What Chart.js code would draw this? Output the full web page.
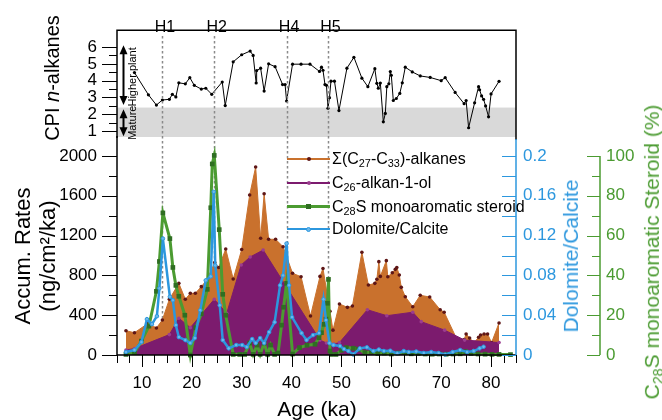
<!DOCTYPE html>
<html>
<head>
<meta charset="utf-8">
<script src="https://cdn.jsdelivr.net/npm/chart.js@4.4.1/dist/chart.umd.min.js"></script>
<style>
  html, body { margin: 0; padding: 0; background: #fff; }
  #wrap { position: relative; width: 662px; height: 420px; overflow: hidden;
          font-family: 'Liberation Sans', Arial, sans-serif; color: #000; }
  canvas { position: absolute; left: 0; top: 0; }
  .vt { position: absolute; white-space: nowrap; font-size: 21px; line-height: 1.15;
        transform: translate(-50%, -50%) rotate(-90deg); text-align: center; }
  .ht { position: absolute; white-space: nowrap; font-size: 21px; line-height: 1.15;
        transform: translate(-50%, -50%); }
  sub { font-size: 0.68em; vertical-align: -0.3em; line-height: 0; }
  .lg { position: absolute; left: 287px; height: 0; width: 200px; }
  .lg .ln { position: absolute; left: 0; width: 43px; }
  .lg .mk { position: absolute; }
  .lg .tx { position: absolute; left: 45px; top: -10px; line-height: 20px; font-size: 16px; white-space: nowrap; }
</style>
</head>
<body>
<div id="wrap">
  <canvas id="cpi" width="662" height="420"></canvas>
  <canvas id="rates" width="662" height="420"></canvas>

  <div class="vt" style="left:52px; top:78px; font-size:20px;">CPI <i>n</i>-alkanes</div>
  <div class="vt" style="left:35px; top:256px; line-height:25px; font-size:22px;">Accum. Rates<br>(ng/cm²/ka)</div>
  <div class="vt" style="left:571px; top:256px; color:#2c97de;">Dolomite/Calcite</div>
  <div class="vt" style="left:652px; top:252px; color:#4b9b31;">C<sub>28</sub>S monoaromatic Steroid (%)</div>
  <div class="ht" style="left:317px; top:409px;">Age (ka)</div>

  <div class="lg" style="top:159px">
    <span class="ln" style="top:-0.75px; height:1.5px; background:#c9712d"></span>
    <span class="mk" style="left:19.5px; top:-2px; width:4px; height:4px; border-radius:50%; background:#5e1616"></span>
    <span class="tx">Σ(C<sub>27</sub>-C<sub>33</sub>)-alkanes</span>
  </div>
  <div class="lg" style="top:183px">
    <span class="ln" style="top:-0.75px; height:1.5px; background:#7c1b6e"></span>
    <span class="mk" style="left:19.5px; top:-2px; width:4px; height:4px; border-radius:50%; background:#9b3d8f"></span>
    <span class="tx">C<sub>26</sub>-alkan-1-ol</span>
  </div>
  <div class="lg" style="top:206.5px">
    <span class="ln" style="top:-1.5px; height:3px; background:#4b9b31"></span>
    <span class="mk" style="left:19px; top:-2.5px; width:5px; height:5px; background:#2f6e22"></span>
    <span class="tx">C<sub>28</sub>S monoaromatic steroid</span>
  </div>
  <div class="lg" style="top:229px">
    <span class="ln" style="top:-1.25px; height:2.5px; background:#2c97de"></span>
    <span class="mk" style="left:19px; top:-2.5px; width:3px; height:3px; border-radius:50%; border:1px solid #2c97de; background:#6cb8ea"></span>
    <span class="tx">Dolomite/Calcite</span>
  </div>
</div>

<script>
// ── Data ────────────────────────────────────────────
const ageMin = 5, ageMax = 85;
const ageTicks = [10, 20, 30, 40, 50, 60, 70, 80];

const eventNames = ['H1', 'H2', 'H4', 'H5'];
const eventAges  = [14.1, 24.5, 39.0, 47.3];

// CPI n-alkanes (top panel)
const cpiTicks = [1, 2, 3, 4, 5, 6];
const matureBand  = [0.65, 2.4];
const higherPlant = [6.1, 2.55];
const matureArrow = [2.3, 0.7];
const cpiAge = [
  8.5, 11.3, 12.9, 14.1, 15.5, 16.1, 16.8, 17.4, 18.7, 19.6,
  20.5, 21.9, 22.8, 24.0, 26.1, 26.7, 28.3, 30.0, 31.7, 32.3,
  32.9, 33.0, 33.8, 34.5, 35.4, 36.7, 38.2, 38.7, 39.0, 40.2,
  41.9, 43.7, 45.6, 46.0, 46.3, 46.7, 47.0, 47.3, 47.6, 47.9,
  48.6, 49.5, 51.1, 52.5, 54.1, 55.3, 56.7, 57.1, 57.4, 57.8,
  58.4, 58.8, 59.1, 59.5, 59.8, 60.0, 60.4, 61.0, 61.7, 62.2,
  62.8, 64.2, 65.8, 67.8, 70.0, 70.8, 72.8, 74.6, 75.0, 75.5,
  76.7, 77.5, 77.7, 78.1, 78.5, 78.9, 79.5, 80.0, 81.6
];
const cpiVal = [
  4.48, 3.16, 2.55, 2.85, 2.89, 3.19, 3.03, 3.87, 3.81, 4.18,
  3.72, 3.50, 3.55, 3.19, 3.92, 2.52, 5.12, 5.54, 5.76, 5.50,
  3.86, 4.60, 4.74, 3.38, 5.00, 4.83, 3.77, 3.77, 2.79, 4.98,
  4.98, 4.98, 4.55, 4.80, 4.62, 3.77, 3.72, 2.36, 2.99, 3.97,
  3.97, 2.22, 4.74, 5.39, 4.15, 3.64, 4.71, 3.84, 3.55, 3.86,
  1.55, 2.05, 3.64, 3.81, 4.54, 4.32, 2.82, 2.94, 3.24, 3.87,
  4.80, 4.52, 4.28, 4.19, 4.00, 4.18, 3.30, 2.63, 2.82, 1.20,
  2.68, 3.64, 3.46, 3.09, 2.89, 2.50, 1.85, 3.21, 3.96
];

// Accumulation rates (bottom panel, left axis)
const rateTicks = [0, 400, 800, 1200, 1600, 2000];
const alkAge = [
  6.8, 8.5, 11.3, 12.9, 14.1, 15.5, 17.4, 18.7, 19.7, 20.7,
  21.9, 23.0, 24.6, 25.4, 26.8, 28.3, 30.0, 31.6, 32.8, 33.8,
  34.5, 35.4, 36.8, 38.3, 40.2, 41.9, 43.8, 45.7, 46.3, 47.7,
  48.3, 49.6, 51.2, 52.2, 54.1, 55.4, 56.7, 57.1, 57.5, 57.8,
  59.0, 59.3, 60.2, 60.8, 61.1, 61.6, 62.0, 62.8, 64.3, 65.8,
  67.7, 69.8, 70.6, 73.1, 74.6, 75.0, 75.7, 76.6, 77.5, 77.9,
  78.6, 79.3, 80.1, 81.6
];
const alkRate = [
  244, 224, 320, 271, 352, 560, 720, 560, 620, 620,
  687, 754, 930, 880, 1065, 764, 1060, 1608, 1890, 1173,
  1620, 1163, 1163, 1088, 821, 787, 392, 790, 870, 440,
  250, 513, 479, 492, 1032, 703, 720, 761, 938, 790,
  948, 787, 827, 861, 880, 804, 680, 586, 485, 600,
  583, 455, 430, 163, 155, 211, 170, 124, 178, 201,
  211, 211, 124, 322
];
const olAge  = [6.8, 8.5, 15.5, 17.4, 19.7, 24.5, 27.0, 29.9, 31.7, 34.3, 45.7, 47.0, 48.5, 49.6, 55.2, 59.1, 64.3, 66.0, 70.7, 74.7, 81.6];
const olRate = [50, 65, 205, 370, 275, 560, 420, 905, 985, 1055, 150, 120, 110, 125, 455, 395, 430, 335, 250, 150, 125];

// C28S monoaromatic steroid (%)
const steroidTicks = [0, 20, 40, 60, 80, 100];
const steAge = [
  6.8, 8.5, 9.9, 11.4, 12.9, 13.5, 14.2, 15.6, 16.2, 16.8,
  17.4, 18.6, 19.7, 20.8, 21.9, 23.1, 23.8, 24.1, 24.5, 25.5,
  26.2, 26.8, 28.3, 29.6, 30.6, 31.6, 32.3, 33.1, 33.7, 34.5,
  35.2, 35.8, 36.6, 37.3, 38.0, 38.4, 39.0, 40.2, 41.6, 43.1,
  44.7, 45.5, 46.0, 46.5, 46.9, 47.2, 47.4, 47.7, 48.0, 48.9,
  50.0, 51.0, 52.4, 53.4, 54.7, 56.0, 57.3, 58.6, 60.0, 61.3,
  62.7, 64.0, 65.4, 66.8, 68.2, 69.6, 71.0, 72.4, 73.8, 74.9,
  76.0, 77.4, 78.8, 80.2, 81.6, 83.9
];
const steVal = [
  0.3, 1.2, 7, 14.5, 32, 47, 71.4, 58.5, 44, 35,
  29.5, 20, 0, 13.7, 20.7, 33, 74, 96, 100.3, 63,
  30.5, 20, 0.3, 0.3, 0.3, 6, 0.3, 5, 0.3, 6,
  0.3, 5, 0.3, 1, 15, 24, 36, 0.5, 3.7, 4.9,
  5.4, 8.7, 11.2, 15.4, 18, 26, 38, 2, 0.3, 0.3,
  2.4, 3.7, 3.4, 2.9, 1.2, 1.5, 0.8, 1.0, 0.5, 1.0,
  1.2, 0.6, 0.8, 0.5, 0.4, 0.5, 0.4, 0.5, 0.6, 1.7,
  0.8, 0.5, 0.4, 0.3, 0.3, 0.2
];

// Dolomite/Calcite ratio
const ratioTicks = [0, 0.04, 0.08, 0.12, 0.16, 0.2];
const dolAge = [
  6.8, 8.5, 9.9, 11.0, 12.0, 13.0, 13.5, 14.2, 15.6, 16.2,
  16.8, 17.4, 18.7, 19.7, 20.6, 21.7, 22.8, 23.8, 24.4, 24.7,
  25.6, 26.2, 27.4, 28.9, 30.1, 31.0, 32.1, 32.8, 33.7, 34.5,
  35.5, 36.6, 37.7, 38.3, 39.0, 39.5, 40.1, 42.0, 43.0, 44.3,
  45.5, 46.4, 46.9, 47.6, 48.4, 49.7, 50.5, 51.4, 52.4, 53.7,
  55.1, 56.4, 57.5, 58.5, 59.8, 61.2, 62.5, 63.5, 65.0, 66.5,
  68.0, 69.5, 70.8, 72.3, 73.8, 75.2, 76.5, 77.7, 78.5
];
const dolVal = [
  0.003, 0.005, 0.013, 0.036, 0.031, 0.039, 0.067, 0.117, 0.0586, 0.055,
  0.030, 0.018, 0.015, 0.012, 0.017, 0.045, 0.075, 0.079, 0.164, 0.090,
  0.050, 0.015, 0.0067, 0.010, 0.010, 0.008, 0.016, 0.012, 0.017, 0.012,
  0.023, 0.033, 0.070, 0.080, 0.112, 0.070, 0.038, 0.022, 0.015, 0.020,
  0.022, 0.056, 0.035, 0.012, 0.010, 0.009, 0.006, 0.004, 0.0005, 0.0067,
  0.0077, 0.004, 0.0055, 0.004, 0.0043, 0.0017, 0.004, 0.003, 0.0035, 0.002,
  0.003, 0.002, 0.0005, 0.003, 0.005, 0.003, 0.004, 0.0067, 0.0083
];

// ── Colours ─────────────────────────────────────────
const C_ORANGE = '#c9712d', C_PURPLE = '#7c1b6e', C_GREEN = '#4b9b31', C_BLUE = '#2c97de';
const FONT = "'Liberation Sans', Arial, sans-serif";
Chart.defaults.font.family = FONT;
Chart.defaults.color = '#000';

const pts = (xs, ys) => xs.map((x, i) => ({ x, y: ys[i] }));
const fixTicks = arr => scale => { scale.ticks = arr.map(v => ({ value: v })); };

function tick(ctx, x1, y1, x2, y2) {
  ctx.beginPath(); ctx.moveTo(x1, y1); ctx.lineTo(x2, y2); ctx.stroke();
}

function arrow(ctx, x, yA, yB) {
  ctx.beginPath(); ctx.moveTo(x, yA + 6); ctx.lineTo(x, yB - 6); ctx.stroke();
  [[yA, 1], [yB, -1]].forEach(([y, d]) => {
    ctx.beginPath();
    ctx.moveTo(x, y); ctx.lineTo(x - 4, y + 9 * d); ctx.lineTo(x + 4, y + 9 * d);
    ctx.closePath(); ctx.fill();
  });
}

// ── Top panel: CPI ─────────────────────────────────
const topDeco = {
  id: 'topDeco',
  beforeDatasetsDraw(chart) {
    const { ctx, chartArea: a, scales: { y } } = chart;
    const yt = y.getPixelForValue(matureBand[1]);
    ctx.save();
    ctx.fillStyle = '#d9d9d9';
    ctx.fillRect(a.left, yt, a.right - a.left, a.bottom - yt);
    ctx.restore();
  },
  afterDraw(chart) {
    const { ctx, chartArea: a, scales: { y } } = chart;
    ctx.save();
    ctx.strokeStyle = '#000';
    ctx.lineWidth = 1.5;
    ctx.beginPath();
    ctx.moveTo(a.left, a.bottom + 1);
    ctx.lineTo(a.left, a.top);
    ctx.lineTo(a.right, a.top);
    ctx.lineTo(a.right, a.bottom + 3);
    ctx.stroke();

    ctx.lineWidth = 1;
    for (let v = 1; v <= 6; v += 0.5) {
      const py = Math.round(y.getPixelForValue(v)) + 0.5;
      tick(ctx, a.left - (v % 1 === 0 ? 15 : 8), py, a.left, py);
    }

    // interpretation arrows
    ctx.fillStyle = '#000';
    ctx.lineWidth = 2;
    arrow(ctx, a.left + 6.5, y.getPixelForValue(higherPlant[0]), y.getPixelForValue(higherPlant[1]));
    arrow(ctx, a.left + 6.5, y.getPixelForValue(matureArrow[0]), y.getPixelForValue(matureArrow[1]));

    ctx.font = '11px ' + FONT;
    ctx.textAlign = 'center';
    ctx.textBaseline = 'middle';
    [['Higher plant', (higherPlant[0] + higherPlant[1]) / 2 - 0.1],
     ['Mature', (matureArrow[0] + matureArrow[1]) / 2]].forEach(([t, v]) => {
      ctx.save();
      ctx.translate(a.left + 16, y.getPixelForValue(v));
      ctx.rotate(-Math.PI / 2);
      ctx.fillText(t, 0, 0);
      ctx.restore();
    });
    ctx.restore();
  }
};

new Chart(document.getElementById('cpi'), {
  type: 'line',
  data: {
    datasets: [{
      data: pts(cpiAge, cpiVal),
      borderColor: '#000', borderWidth: 1,
      pointRadius: 1.6, pointBackgroundColor: '#000', pointBorderWidth: 0,
      tension: 0, clip: false
    }]
  },
  options: {
    responsive: false, animation: false,
    layout: { padding: { top: 12, right: 146, bottom: 283, left: 0 } },
    plugins: { legend: { display: false }, tooltip: { enabled: false } },
    scales: {
      x: { type: 'linear', min: ageMin, max: ageMax, display: false },
      y: {
        min: matureBand[0], max: 7.0,
        grid: { display: false, drawTicks: false }, border: { display: false },
        afterBuildTicks: fixTicks(cpiTicks),
        afterFit: s => { s.width = 117; },
        ticks: { padding: 20, font: { size: 17 }, color: '#000', callback: v => String(v) }
      }
    }
  },
  plugins: [topDeco]
});

// ── Bottom panel: accumulation rates ───────────────
const botDeco = {
  id: 'botDeco',
  beforeDatasetsDraw(chart) {
    const { ctx, chartArea: a, scales: { x } } = chart;
    ctx.save();
    ctx.strokeStyle = '#8a8a8a';
    ctx.lineWidth = 1.5;
    ctx.setLineDash([2.5, 2.5]);
    eventAges.forEach(age => {
      const px = Math.round(x.getPixelForValue(age)) + 0.5;
      tick(ctx, px, 36, px, a.bottom);
    });
    ctx.setLineDash([]);
    ctx.fillStyle = '#000';
    ctx.font = '16px ' + FONT;
    ctx.textAlign = 'center';
    ctx.textBaseline = 'middle';
    eventNames.forEach((n, i) => ctx.fillText(n, x.getPixelForValue(eventAges[i]) + 2.5, 28));
    ctx.restore();
  },
  afterDraw(chart) {
    const { ctx, chartArea: a, scales: { x, y, yBlue, yGreen } } = chart;
    ctx.save();
    ctx.lineWidth = 1.5;
    ctx.strokeStyle = '#000';
    tick(ctx, a.left, 136, a.left, a.bottom);
    tick(ctx, a.left, a.bottom, a.right, a.bottom);

    ctx.lineWidth = 1;
    for (let v = 0; v <= 2000; v += 200) {
      const py = Math.round(y.getPixelForValue(v)) + 0.5;
      tick(ctx, a.left - (v % 400 === 0 ? 15 : 8), py, a.left, py);
    }
    for (let v = ageMin; v <= ageMax; v += 2.5) {
      const px = Math.round(x.getPixelForValue(v)) + 0.5;
      tick(ctx, px, a.bottom, px, a.bottom + (v % 10 === 0 ? 12 : 8));
    }

    ctx.strokeStyle = C_BLUE;
    ctx.lineWidth = 1.5;
    tick(ctx, a.right, 139, a.right, a.bottom);
    ctx.lineWidth = 1;
    for (let v = 0; v <= 0.2001; v += 0.02) {
      const py = Math.round(yBlue.getPixelForValue(v)) + 0.5;
      tick(ctx, a.right - 14, py, a.right, py);
    }

    ctx.strokeStyle = C_GREEN;
    ctx.lineWidth = 1.5;
    const gx = yGreen.left;
    tick(ctx, gx, yGreen.getPixelForValue(100), gx, yGreen.getPixelForValue(0));
    ctx.lineWidth = 1;
    for (let v = 0; v <= 100; v += 10) {
      const py = Math.round(yGreen.getPixelForValue(v)) + 0.5;
      tick(ctx, gx - (v % 20 === 0 ? 13 : 8), py, gx, py);
    }
    ctx.restore();
  }
};

new Chart(document.getElementById('rates'), {
  type: 'line',
  data: {
    datasets: [
      {
        label: 'Σ(C27-C33)-alkanes', data: pts(alkAge, alkRate), yAxisID: 'y',
        fill: 'origin', backgroundColor: C_ORANGE, borderColor: C_ORANGE, borderWidth: 1,
        pointRadius: 1.8, pointBackgroundColor: '#5e1616', pointBorderWidth: 0, order: 4
      },
      {
        label: 'C26-alkan-1-ol', data: pts(olAge, olRate), yAxisID: 'y',
        fill: 'origin', backgroundColor: C_PURPLE, borderColor: C_PURPLE, borderWidth: 1,
        pointRadius: 1.8, pointBackgroundColor: '#9b3d8f', pointBorderWidth: 0, order: 3
      },
      {
        label: 'C28S monoaromatic steroid', data: pts(steAge, steVal), yAxisID: 'yGreen',
        borderColor: C_GREEN, borderWidth: 3, pointStyle: 'rect', pointRadius: 3.3,
        pointBackgroundColor: '#2f6e22', pointBorderWidth: 0, order: 2, clip: false
      },
      {
        label: 'Dolomite/Calcite', data: pts(dolAge, dolVal), yAxisID: 'yBlue',
        borderColor: C_BLUE, borderWidth: 2.5, pointRadius: 1.8,
        pointBackgroundColor: '#6cb8ea', pointBorderColor: C_BLUE, pointBorderWidth: 1, order: 1, clip: false
      }
    ]
  },
  options: {
    responsive: false, animation: false,
    layout: { padding: { top: 156, right: 0, bottom: 0, left: 0 } },
    elements: { line: { tension: 0 } },
    plugins: { legend: { display: false }, tooltip: { enabled: false } },
    scales: {
      x: {
        type: 'linear', position: 'bottom', min: ageMin, max: ageMax,
        grid: { display: false, drawTicks: false }, border: { display: false },
        afterBuildTicks: fixTicks(ageTicks),
        afterFit: s => { s.height = 65; },
        ticks: { padding: 18, font: { size: 17 }, color: '#000', maxRotation: 0, callback: v => String(v) }
      },
      y: {
        position: 'left', min: 0, max: 2000,
        grid: { display: false, drawTicks: false }, border: { display: false },
        afterBuildTicks: fixTicks(rateTicks),
        afterFit: s => { s.width = 117; },
        ticks: { padding: 20, font: { size: 17 }, color: '#000', callback: v => String(v) }
      },
      yBlue: {
        position: 'right', weight: 0, min: 0, max: 0.2,
        grid: { display: false, drawTicks: false }, border: { display: false },
        afterBuildTicks: fixTicks(ratioTicks),
        afterFit: s => { s.width = 84; },
        ticks: { padding: 7, font: { size: 17 }, color: C_BLUE, callback: v => String(+v.toFixed(2)) }
      },
      yGreen: {
        position: 'right', weight: 1, min: 0, max: 100,
        grid: { display: false, drawTicks: false }, border: { display: false },
        afterBuildTicks: fixTicks(steroidTicks),
        afterFit: s => { s.width = 62; },
        ticks: { padding: 6, font: { size: 17 }, color: C_GREEN, callback: v => String(v) }
      }
    }
  },
  plugins: [botDeco]
});
</script>
</body>
</html>
